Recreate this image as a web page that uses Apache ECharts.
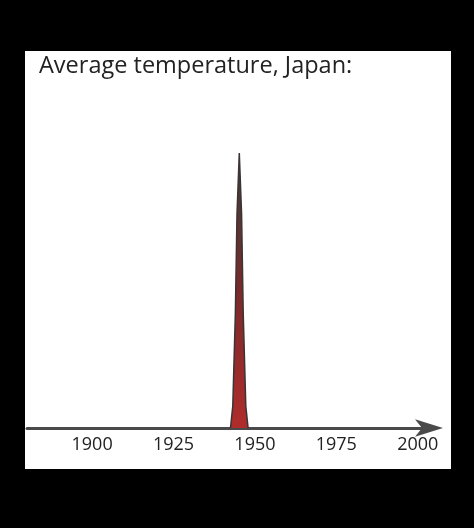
<!DOCTYPE html>
<html>
<head>
<meta charset="utf-8">
<script src="https://cdn.jsdelivr.net/npm/echarts@6/dist/echarts.min.js"></script>
<style>
  html, body { margin: 0; padding: 0; background: #000; }
  #chart { width: 474px; height: 528px; }
</style>
</head>
<body>
<div id="chart"></div>
<script>
// spike around 1945
var years = [1942.5, 1943.2, 1944.0, 1944.5, 1945.2, 1945.9, 1946.4, 1947.2, 1947.9];
var temps = [0, 0.08, 0.42, 0.78, 1, 0.78, 0.42, 0.08, 0];
var tickYears = [1900, 1925, 1950, 1975, 2000];

var points = [];
for (var i = 0; i < years.length; i++) {
    points.push([years[i], temps[i]]);
}

var myChart = echarts.init(document.getElementById("chart"));
var option = {
    backgroundColor: '#000',
    animation: false,
    graphic: [
        {
            type: 'rect',
            z: -10,
            shape: { x: 25, y: 51, width: 426, height: 418 },
            style: { fill: '#fff' }
        },
        {
            type: 'text',
            left: 39,
            top: 54,
            style: {
                text: 'Average temperature, Japan:',
                font: '23.5px "Open Sans"',
                fill: '#222'
            }
        }
    ],
    grid: { left: 27, right: 40, top: 153, bottom: 100 },
    xAxis: {
        type: 'value',
        min: 1880,
        max: 2005,
        interval: 5,
        splitLine: { show: false },
        axisTick: { show: false },
        axisLine: {
            symbol: ['none', 'arrow'],
            symbolSize: [13, 28],
            symbolOffset: [0, 9],
            lineStyle: { color: '#4a4a4a', width: 3 }
        },
        axisLabel: {
            margin: 8,
            color: '#222',
            fontSize: 18,
            fontFamily: 'Open Sans',
            formatter: function (v) {
                return tickYears.indexOf(v) >= 0 ? String(v) : '';
            }
        }
    },
    yAxis: {
        type: 'value',
        min: 0,
        max: 1,
        show: false
    },
    series: [
        {
            type: 'line',
            data: points,
            symbol: 'none',
            lineStyle: { color: '#3a3434', width: 1.5 },
            areaStyle: {
                opacity: 1,
                color: new echarts.graphic.LinearGradient(0, 0, 0, 1, [
                    { offset: 0, color: '#3c3c3c' },
                    { offset: 0.5, color: '#7a2a2a' },
                    { offset: 1, color: '#b02c2c' }
                ])
            }
        }
    ]
};
myChart.setOption(option);
</script>
</body>
</html>
